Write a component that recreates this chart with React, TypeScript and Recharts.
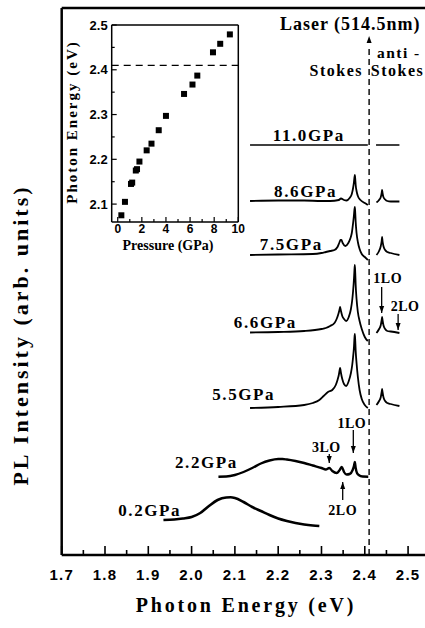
import React from "react";
import {
  LineChart,
  Line,
  XAxis,
  YAxis,
  ReferenceLine,
  ReferenceDot,
  ScatterChart,
  Scatter,
} from "recharts";

const SERIF = '"Liberation Serif", "Times New Roman", serif';
const SANS = '"Liberation Sans", Arial, sans-serif';

// main panel: PL spectra, [photon energy (eV), intensity (arb. units, offset)]
const spec02 = [[1.935, 35], [1.96, 35.5], [1.98, 36.5], [2.0, 38], [2.02, 42], [2.04, 49], [2.06, 55], [2.08, 57.5], [2.09, 57.7], [2.1, 57], [2.12, 53], [2.14, 48], [2.16, 44], [2.18, 40], [2.2, 36.5], [2.22, 34], [2.24, 32], [2.26, 30.5], [2.28, 29.5], [2.295, 29]];
const spec22 = [[2.062, 78.3], [2.08, 78.5], [2.1, 80], [2.12, 83], [2.14, 87], [2.16, 91.5], [2.18, 94.5], [2.2, 96], [2.21, 96], [2.22, 95.5], [2.24, 94], [2.26, 92], [2.28, 89.5], [2.3, 87], [2.31, 85.5], [2.318, 87], [2.325, 84], [2.335, 82], [2.342, 85], [2.347, 88], [2.352, 83], [2.358, 80.5], [2.365, 81], [2.372, 85], [2.375, 89], [2.377, 93], [2.379, 87], [2.382, 82], [2.386, 80], [2.395, 78.5], [2.408, 78.3]];
const spec55 = [[2.135, 147], [2.2, 148], [2.26, 150], [2.28, 152], [2.295, 155], [2.305, 159], [2.315, 163], [2.325, 165], [2.333, 170], [2.337, 175], [2.34, 180], [2.342, 185], [2.343, 187], [2.345, 182], [2.348, 176], [2.352, 171], [2.357, 169], [2.363, 174], [2.368, 182], [2.371, 190], [2.373, 198], [2.375, 208], [2.376, 216], [2.377, 221], [2.378, 214], [2.379, 204], [2.381, 192], [2.384, 178], [2.388, 165], [2.393, 156], [2.4, 150], [2.407, 147]];
const spec55anti = [[2.427, 150], [2.433, 154], [2.437, 158], [2.439, 163], [2.44, 166], [2.441, 163], [2.443, 158], [2.447, 154], [2.452, 152], [2.46, 151], [2.48, 149]];
const spec66 = [[2.135, 222.5], [2.2, 223], [2.26, 224], [2.3, 226], [2.31, 227], [2.32, 229], [2.33, 232], [2.335, 236], [2.339, 241], [2.342, 246], [2.343, 248], [2.345, 244], [2.348, 239], [2.352, 236], [2.357, 234], [2.363, 238], [2.368, 246], [2.371, 255], [2.373, 264], [2.375, 276], [2.376, 284], [2.377, 290], [2.378, 282], [2.379, 270], [2.381, 256], [2.384, 243], [2.388, 234], [2.393, 226], [2.4, 218], [2.407, 214]];
const spec66anti = [[2.427, 222], [2.433, 226], [2.437, 230], [2.439, 235], [2.44, 238], [2.441, 235], [2.443, 230], [2.447, 226], [2.452, 224], [2.46, 223.5], [2.48, 222]];
const spec75 = [[2.135, 300], [2.2, 300.5], [2.28, 301], [2.3, 302], [2.31, 303], [2.32, 304], [2.33, 305], [2.337, 308], [2.341, 312], [2.344, 315], [2.346, 315], [2.349, 312], [2.355, 309], [2.362, 312], [2.367, 317], [2.37, 322], [2.373, 332], [2.375, 340], [2.376, 345], [2.377, 348], [2.378, 342], [2.379, 333], [2.381, 322], [2.384, 313], [2.388, 306], [2.393, 301], [2.4, 298], [2.407, 295]];
const spec75anti = [[2.427, 300], [2.433, 304], [2.437, 309], [2.439, 314], [2.44, 318], [2.441, 314], [2.443, 309], [2.447, 305], [2.452, 303], [2.46, 302], [2.48, 300]];
const spec86 = [[2.135, 354], [2.2, 354.5], [2.26, 354.5], [2.3, 354], [2.32, 354], [2.34, 355], [2.345, 356.5], [2.352, 355], [2.358, 354.5], [2.365, 357], [2.37, 361], [2.373, 367], [2.375, 373], [2.376, 377], [2.377, 380], [2.378, 376], [2.379, 370], [2.381, 364], [2.384, 359], [2.39, 355], [2.4, 352], [2.407, 350]];
const spec86anti = [[2.427, 352.5], [2.433, 355], [2.437, 358], [2.439, 362], [2.44, 365], [2.441, 362], [2.443, 358], [2.447, 355.5], [2.452, 354], [2.46, 353.5], [2.48, 353.5]];
const spec110 = [[2.135, 410], [2.2, 410], [2.3, 410], [2.407, 410]];
const spec110anti = [[2.426, 410], [2.48, 410]];

const energyTicks = [1.7, 1.75, 1.8, 1.85, 1.9, 1.95, 2.0, 2.05, 2.1, 2.15, 2.2, 2.25, 2.3, 2.35, 2.4, 2.45, 2.5];
const laserEnergy = 2.41;

// inset: PL peak energy vs pressure
const pressure = [0.3, 0.6, 1.1, 1.2, 1.5, 1.6, 1.8, 2.4, 2.8, 3.4, 4.0, 5.5, 6.2, 6.6, 7.9, 8.5, 9.3];
const peakEnergy = [2.075, 2.105, 2.145, 2.148, 2.175, 2.178, 2.195, 2.22, 2.235, 2.265, 2.297, 2.346, 2.367, 2.387, 2.439, 2.458, 2.479];
const pressureTicks = [0, 1, 2, 3, 4, 5, 6, 7, 8, 9, 10];
const insetEnergyTicks = [2.1, 2.15, 2.2, 2.25, 2.3, 2.35, 2.4, 2.45, 2.5];

// annotations (text, energy, intensity)
const pressureNotes = [
  { text: "0.2GPa", e: 1.976, v: 39 },
  { text: "2.2GPa", e: 2.107, v: 87 },
  { text: "5.5GPa", e: 2.193, v: 155 },
  { text: "6.6GPa", e: 2.243, v: 227 },
  { text: "7.5GPa", e: 2.303, v: 305 },
  { text: "8.6GPa", e: 2.336, v: 358 },
  { text: "11.0GPa", e: 2.354, v: 414 },
];
const loNotes = [
  { text: "1LO", e: 2.37, v: 127 },
  { text: "3LO", e: 2.311, v: 103 },
  { text: "2LO", e: 2.349, v: 40 },
  { text: "1LO", e: 2.453, v: 272 },
  { text: "2LO", e: 2.493, v: 244 },
];
const loArrows = [
  { e: 2.3735, from: 125, to: 102 },
  { e: 2.318, from: 101, to: 92 },
  { e: 2.349, from: 55, to: 73 },
  { e: 2.439, from: 268, to: 242 },
  { e: 2.477, from: 241, to: 225 },
];

const rows = (pairs: number[][]) => pairs.map(([e, v]) => ({ e, v }));
const insetRows = pressure.map((p, i) => ({ p, e: peakEnergy[i] }));

const spectra = [
  { d: spec02, w: 2.6 },
  { d: spec22, w: 2.4 },
  { d: spec55, w: 1.8 },
  { d: spec55anti, w: 1.8 },
  { d: spec66, w: 1.8 },
  { d: spec66anti, w: 1.8 },
  { d: spec75, w: 1.8 },
  { d: spec75anti, w: 1.8 },
  { d: spec86, w: 1.8 },
  { d: spec86anti, w: 1.8 },
  { d: spec110, w: 1.6 },
  { d: spec110anti, w: 1.6 },
];

const textShape =
  (txt: string, anchor: string, size: number, spacing: number) => (p: any) =>
    (
      <text
        x={p.cx}
        y={p.cy}
        textAnchor={anchor}
        fontFamily={SERIF}
        fontWeight="bold"
        fontSize={size}
        letterSpacing={spacing}
        fill="#000"
      >
        {txt}
      </text>
    );

// tip at (cx, cy); "up" means the arrow points to the top of the page
const headShape = (up: boolean) => (p: any) => {
  const h = up ? 7 : -7;
  return (
    <polygon
      points={`${p.cx - 2.5},${p.cy + h} ${p.cx + 2.5},${p.cy + h} ${p.cx},${p.cy}`}
      fill="#000"
    />
  );
};

function MainTick(props: any) {
  const { x, y, payload } = props;
  const major = Math.round(payload.value * 100) % 10 === 0;
  return (
    <g>
      <line x1={x} x2={x} y1={y} y2={y - (major ? 9 : 5)} stroke="#000" strokeWidth={1.6} />
      {major && (
        <text x={x} y={y + 25} textAnchor="middle" fontFamily={SANS} fontWeight="bold" fontSize={15} letterSpacing={1.2} fill="#000">
          {payload.value.toFixed(1)}
        </text>
      )}
    </g>
  );
}

function InsetXTick(props: any) {
  const { x, y, payload } = props;
  const major = payload.value % 2 === 0;
  return (
    <g>
      <line x1={x} x2={x} y1={y} y2={y - (major ? 5 : 3)} stroke="#000" strokeWidth={1.2} />
      {major && (
        <text x={x} y={y + 11} textAnchor="middle" fontFamily={SANS} fontWeight="bold" fontSize={12} fill="#000">
          {payload.value}
        </text>
      )}
    </g>
  );
}

function InsetYTick(props: any) {
  const { x, y, payload } = props;
  const major = Math.round(payload.value * 100) % 10 === 0;
  return (
    <g>
      <line x1={x} x2={x + (major ? 5 : 3)} y1={y} y2={y} stroke="#000" strokeWidth={1.2} />
      {major && (
        <text x={x - 4} y={y + 4.5} textAnchor="end" fontFamily={SANS} fontWeight="bold" fontSize={13} fill="#000">
          {payload.value.toFixed(1)}
        </text>
      )}
    </g>
  );
}

export default function App() {
  return (
    <div style={{ position: "absolute", left: 0, top: 0, width: 425, height: 628, overflow: "hidden", background: "#fff" }}>
      <div style={{ position: "absolute", left: 0, top: 0 }}>
        <LineChart width={430} height={628} margin={{ top: 8, right: 4.6, bottom: 0, left: 0 }}>
          <XAxis
            type="number"
            dataKey="e"
            domain={[1.7, 2.54]}
            allowDataOverflow
            ticks={energyTicks}
            interval={0}
            tick={<MainTick />}
            tickLine={false}
            tickSize={0}
            tickMargin={0}
            height={73}
            axisLine={{ stroke: "#000", strokeWidth: 2.5 }}
            label={() => (
              <text
                x={246}
                y={612}
                textAnchor="middle"
                fontFamily={SERIF}
                fontWeight="bold"
                fontSize={20}
                letterSpacing={2.8}
                fill="#000"
              >
                Photon Energy (eV)
              </text>
            )}
          />
          <YAxis
            type="number"
            domain={[0, 547]}
            allowDataOverflow
            tick={false}
            tickLine={false}
            width={61.7}
            axisLine={{ stroke: "#000", strokeWidth: 2.5 }}
            label={() => (
              <text
                x={28}
                y={335}
                transform="rotate(-90, 28, 335)"
                textAnchor="middle"
                fontFamily={SERIF}
                fontWeight="bold"
                fontSize={22}
                letterSpacing={3}
                fill="#000"
              >
                PL Intensity (arb. units)
              </text>
            )}
          />
          <ReferenceLine y={547} stroke="#000" strokeWidth={2.5} />
          <ReferenceLine
            segment={[{ x: laserEnergy, y: 0 }, { x: laserEnergy, y: 510 }]}
            stroke="#000"
            strokeWidth={1.4}
            strokeDasharray="6 4"
          />
          <ReferenceDot x={laserEnergy} y={519} r={0} shape={headShape(true)} ifOverflow="visible" />
          {spectra.map((s, i) => (
            <Line
              key={i}
              data={rows(s.d)}
              dataKey="v"
              type="monotone"
              dot={false}
              activeDot={false}
              stroke="#000"
              strokeWidth={s.w}
              isAnimationActive={false}
            />
          ))}
          {pressureNotes.map((n, i) => (
            <ReferenceDot key={"p" + i} x={n.e} y={n.v} r={0} ifOverflow="visible" shape={textShape(n.text, "end", 17, 1.6)} />
          ))}
          {loNotes.map((n, i) => (
            <ReferenceDot key={"l" + i} x={n.e} y={n.v} r={0} ifOverflow="visible" shape={textShape(n.text, "middle", 14, 0.5)} />
          ))}
          {loArrows.map((a, i) => (
            <ReferenceLine
              key={"a" + i}
              segment={[{ x: a.e, y: a.from }, { x: a.e, y: a.to }]}
              stroke="#000"
              strokeWidth={1.3}
            />
          ))}
          {loArrows.map((a, i) => (
            <ReferenceDot key={"h" + i} x={a.e} y={a.to} r={0} ifOverflow="visible" shape={headShape(a.to > a.from)} />
          ))}
          <ReferenceDot x={2.204} y={525} r={0} ifOverflow="visible" shape={textShape("Laser (514.5nm)", "start", 18, 1)} />
          <ReferenceDot x={2.428} y={497} r={0} ifOverflow="visible" shape={textShape("anti -", "start", 15.5, 1.5)} />
          <ReferenceDot x={2.396} y={479} r={0} ifOverflow="visible" shape={textShape("Stokes", "end", 16, 1.5)} />
          <ReferenceDot x={2.414} y={479} r={0} ifOverflow="visible" shape={textShape("Stokes", "start", 16, 1.5)} />
        </LineChart>
      </div>
      <div style={{ position: "absolute", left: 0, top: 0 }}>
        <ScatterChart width={245} height={256} margin={{ top: 25, right: 6.7, bottom: 0, left: 0 }}>
          <XAxis
            type="number"
            dataKey="p"
            domain={[-0.5, 10]}
            allowDataOverflow
            ticks={pressureTicks}
            interval={0}
            tick={<InsetXTick />}
            tickLine={false}
            tickSize={0}
            tickMargin={0}
            height={34}
            axisLine={{ stroke: "#000", strokeWidth: 1.5 }}
            label={() => (
              <text x={168} y={250} textAnchor="middle" fontFamily={SERIF} fontWeight="bold" fontSize={14} fill="#000">
                Pressure (GPa)
              </text>
            )}
          />
          <YAxis
            type="number"
            dataKey="e"
            domain={[2.06, 2.5]}
            allowDataOverflow
            ticks={insetEnergyTicks}
            interval={0}
            tick={<InsetYTick />}
            tickLine={false}
            tickSize={0}
            tickMargin={0}
            width={111.7}
            axisLine={{ stroke: "#000", strokeWidth: 1.5 }}
            label={() => (
              <text
                x={77}
                y={122}
                transform="rotate(-90, 77, 122)"
                textAnchor="middle"
                fontFamily={SERIF}
                fontWeight="bold"
                fontSize={15}
                letterSpacing={2}
                fill="#000"
              >
                Photon Energy (eV)
              </text>
            )}
          />
          <ReferenceLine y={2.5} stroke="#000" strokeWidth={1.5} />
          <ReferenceLine x={10} stroke="#000" strokeWidth={1.5} />
          <ReferenceLine y={laserEnergy} stroke="#000" strokeWidth={1.2} strokeDasharray="7 5" />
          <Scatter
            data={insetRows}
            dataKey="e"
            fill="#000"
            isAnimationActive={false}
            shape={(p: any) => <rect x={p.cx - 3} y={p.cy - 3} width={6} height={6} fill="#000" />}
          />
        </ScatterChart>
      </div>
    </div>
  );
}
